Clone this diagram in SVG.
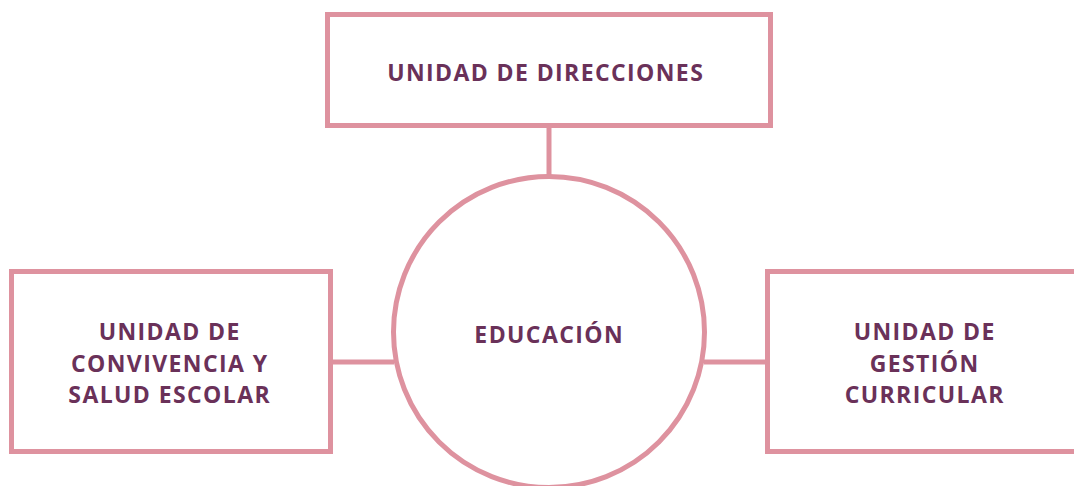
<svg xmlns="http://www.w3.org/2000/svg" width="1074" height="486" viewBox="0 0 1074 486">
<style>
.box{fill:#ffffff;stroke:#de929f;stroke-width:5}
.conn{stroke:#de929f;stroke-width:5;fill:none}
.lbl{font-family:"Open Sans","Liberation Sans",sans-serif;font-weight:700;font-size:23px;letter-spacing:1.4px;fill:#6a3159;text-anchor:middle}
</style>
<rect width="1074" height="486" fill="#ffffff"/>
<g id="connectors">
<line class="conn" x1="549" y1="126" x2="549" y2="176"/>
<line class="conn" x1="331" y1="362" x2="394" y2="362"/>
<line class="conn" x1="704" y1="362" x2="767" y2="362"/>
</g>
<g id="node-direcciones">
<rect class="box" x="327.5" y="14.5" width="443" height="111"/>
<text class="lbl" x="545.7" y="81">UNIDAD DE DIRECCIONES</text>
</g>
<g id="node-educacion">
<circle class="box" cx="549" cy="332" r="155.5"/>
<text class="lbl" x="549.2" y="343">EDUCACIÓN</text>
</g>
<g id="node-convivencia">
<rect class="box" x="11.5" y="271.5" width="319" height="180"/>
<text class="lbl" x="169.7" y="340">UNIDAD DE</text>
<text class="lbl" x="169.7" y="372">CONVIVENCIA Y</text>
<text class="lbl" x="169.7" y="403">SALUD ESCOLAR</text>
</g>
<g id="node-gestion">
<rect class="box" x="767.5" y="271.5" width="319" height="180"/>
<text class="lbl" x="924.7" y="340">UNIDAD DE</text>
<text class="lbl" x="924.7" y="372">GESTIÓN</text>
<text class="lbl" x="924.7" y="403">CURRICULAR</text>
</g>
</svg>
